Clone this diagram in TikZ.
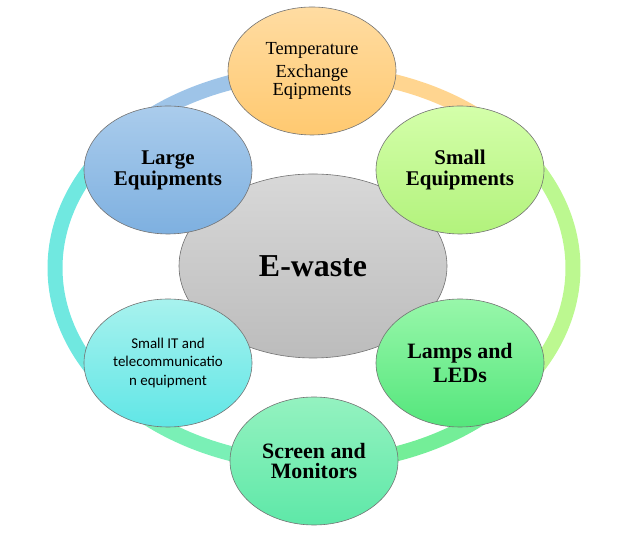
\documentclass[tikz,border=0pt]{standalone}
\usepackage{fontspec}
\setmainfont{Liberation Serif}
\newfontfamily\carlitofont{Carlito}
\usetikzlibrary{shapes.geometric}

% fills of the bubbles (top / bottom)
\definecolor{tempTop}{HTML}{FFDCA2}
\definecolor{tempBot}{HTML}{FFC970}
\definecolor{largeTop}{HTML}{AACCEC}
\definecolor{largeBot}{HTML}{7EB0E0}
\definecolor{smallTop}{HTML}{D4FFAA}
\definecolor{smallBot}{HTML}{B2F27C}
\definecolor{itTop}{HTML}{A8F2EE}
\definecolor{itBot}{HTML}{60E6E6}
\definecolor{lampTop}{HTML}{98F7AA}
\definecolor{lampBot}{HTML}{54E67C}
\definecolor{screenTop}{HTML}{94F2C0}
\definecolor{screenBot}{HTML}{5EE8A8}
\definecolor{wasteTop}{HTML}{D8D8D8}
\definecolor{wasteBot}{HTML}{BCBCBC}
% ring segments
\definecolor{ringOrange}{HTML}{FFD590}
\definecolor{ringLight}{HTML}{BCF890}
\definecolor{ringGreen}{HTML}{74EE98}
\definecolor{ringMint}{HTML}{7AF0B6}
\definecolor{ringCyan}{HTML}{70E8E0}
\definecolor{ringBlue}{HTML}{9EC4E8}

\begin{document}
\begin{tikzpicture}[x=1bp,y=1bp,
  bubble/.style={ellipse,draw=black!55,line width=0.6bp,inner sep=0pt,
    minimum width=168bp,minimum height=128bp,align=center,text=black},
  ringpart/.style={line width=15bp}]
\useasboundingbox (0,0) rectangle (626,538);

% Ring
\foreach \a/\b/\c in {42/90/ringOrange,-42/42/ringLight,-90/-42/ringGreen,
                      -138/-90/ringMint,138/222/ringCyan,90/138/ringBlue}
  \draw[ringpart,\c] (314,270) ++(\a:259 and 196)
    arc[start angle=\a,end angle=\b,x radius=259,y radius=196];

% Centre
\node[bubble,top color=wasteTop,bottom color=wasteBot,minimum width=268bp,
  minimum height=184bp,font=\bfseries\fontsize{32}{36}\selectfont]
  (ewaste) at (313,272) {E-waste};

% Categories
\node[bubble,top color=tempTop,bottom color=tempBot,font=\fontsize{18.5}{19}\selectfont]
  (temp) at (312,467) {Temperature\\[4pt]Exchange\\Eqipments};
\node[bubble,top color=largeTop,bottom color=largeBot,font=\bfseries\fontsize{21}{21}\selectfont]
  (large) at (168,368) {Large\\Equipments};
\node[bubble,top color=smallTop,bottom color=smallBot,font=\bfseries\fontsize{21}{21}\selectfont]
  (small) at (460,368) {Small\\Equipments};
\node[bubble,top color=itTop,bottom color=itBot,font=\carlitofont\fontsize{15}{18.5}\selectfont]
  (smallit) at (168,175) {Small IT and\\telecommunicatio\\n equipment};
\node[bubble,top color=lampTop,bottom color=lampBot,font=\bfseries\fontsize{22}{24}\selectfont]
  (lamps) at (460,175) {Lamps and\\LEDs};
\node[bubble,top color=screenTop,bottom color=screenBot,font=\bfseries\fontsize{22}{21}\selectfont]
  (screen) at (314,77) {Screen and\\Monitors};
\end{tikzpicture}
\end{document}
